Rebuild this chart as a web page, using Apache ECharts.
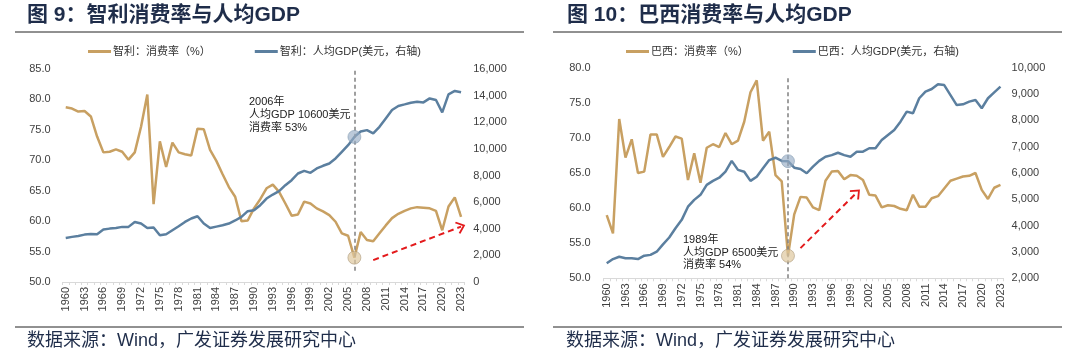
<!DOCTYPE html>
<html>
<head>
<meta charset="utf-8">
<script src="https://cdn.jsdelivr.net/npm/echarts@6/dist/echarts.min.js"></script>
<style>
html,body{margin:0;padding:0;background:#fff;}
#c{width:1080px;height:359px;}
</style>
</head>
<body>
<div id="c"></div>
<script>
const years = ['1960','1961','1962','1963','1964','1965','1966','1967','1968','1969',
'1970','1971','1972','1973','1974','1975','1976','1977','1978','1979',
'1980','1981','1982','1983','1984','1985','1986','1987','1988','1989',
'1990','1991','1992','1993','1994','1995','1996','1997','1998','1999',
'2000','2001','2002','2003','2004','2005','2006','2007','2008','2009',
'2010','2011','2012','2013','2014','2015','2016','2017','2018','2019',
'2020','2021','2022','2023'];

const chileRate = [78.7,78.5,78.0,78.1,77.2,73.9,71.3,71.4,71.8,71.4,
70.1,71.3,75.5,80.8,62.8,73.1,68.9,72.9,71.3,71.0,
70.8,75.2,75.1,71.7,69.9,67.7,65.6,64.0,60.0,60.1,
62.1,63.6,65.4,66.0,64.8,62.9,60.9,61.1,63.2,62.9,
62.1,61.6,61.0,59.9,58.0,57.6,54.0,58.2,56.9,56.7,
58.0,59.3,60.5,61.2,61.7,62.1,62.3,62.2,62.1,61.7,
58.5,62.4,63.9,60.7];

const chileGdp = [3310,3390,3460,3560,3610,3590,3940,4010,4060,4140,
4140,4510,4390,4060,4090,3510,3590,3890,4190,4510,
4770,4940,4390,4060,4160,4260,4390,4620,4890,5320,
5390,5770,6270,6570,6820,7270,7650,8150,8350,8200,
8530,8730,8900,9280,9780,10280,10900,11300,11410,11160,
11660,12290,12920,13220,13340,13470,13540,13490,13790,13670,
12740,14100,14350,14250];

const brazilRate = [59.0,56.4,72.7,67.2,69.8,65.0,65.2,70.5,70.5,67.3,
68.7,70.2,69.9,64.0,67.8,63.6,68.6,69.1,68.7,70.7,
69.1,69.6,72.3,76.5,78.2,69.6,70.9,64.7,63.8,53.2,
59.1,61.6,61.5,60.1,59.7,63.9,65.2,65.3,64.1,64.7,
64.6,64.0,61.9,61.8,60.1,60.4,60.3,59.9,59.7,61.9,
60.2,60.2,61.4,61.7,62.8,63.9,64.2,64.5,64.6,65.0,
62.6,61.3,62.9,63.3];

const brazilGdp = [2570,2730,2820,2760,2760,2730,2860,2890,3010,3290,
3550,3900,4220,4720,4980,5170,5550,5700,5820,6050,
6460,6120,6050,5700,5860,6180,6490,6580,6460,6450,
6200,6150,5990,6240,6460,6620,6680,6770,6680,6620,
6810,6810,6940,6940,7250,7440,7630,7950,8330,8270,
8840,9090,9190,9370,9340,8960,8580,8610,8710,8770,
8460,8840,9060,9280];

const names = {
  cR: '智利：消费率（%）', cG: '智利：人均GDP(美元，右轴)',
  bR: '巴西：消费率（%）', bG: '巴西：人均GDP(美元，右轴)'
};
const titles = ['图 9：智利消费率与人均GDP', '图 10：巴西消费率与人均GDP'];
const source = '数据来源：Wind，广发证券发展研究中心';
const notes = ['2006年\n人均GDP 10600美元\n消费率 53%', '1989年\n人均GDP 6500美元\n消费率 54%'];

const GOLD = '#C8A062', BLUE = '#5B7F9F', RED = '#E31A1C', NAVY = '#1f2d4a';
const FONT = "'Liberation Sans', Arial, 'Noto Sans CJK SC', sans-serif";
const TITLE_FONT = "bold 21px 'Liberation Sans', 'Noto Sans CJK SC', sans-serif";
const SRC_FONT = "18px 'Liberation Sans', 'Noto Sans CJK SC', sans-serif";
const chevron = 'path://M10,0 L20,11 L18,13 L10,4 L2,13 L0,11 Z';

function xAxisCfg(gi){
  return {type:'category', gridIndex:gi, data:years, boundaryGap:true,
    axisLine:{lineStyle:{color:'#d9d9d9'}},
    axisTick:{show:true, interval:0, length:3, lineStyle:{color:'#d9d9d9'}},
    axisLabel:{interval:2, rotate:90, fontSize:11, color:'#404040', margin:5, fontFamily:FONT},
    splitLine:{show:false}};
}
function yAxisCfg(gi, pos, min, max, interval, fmt, margin){
  return {type:'value', gridIndex:gi, position:pos, min:min, max:max, interval:interval,
    axisLine:{show:false}, axisTick:{show:false}, splitLine:{show:false},
    axisLabel:{fontSize:11, color:'#404040', fontFamily:FONT, margin:margin, formatter:fmt}};
}
const f1 = v => v.toFixed(1);
const fc = v => v.toLocaleString('en-US');

function vline(cat, top, bottom){
  return [{coord:[cat, top], symbol:'none'}, {coord:[cat, bottom], symbol:'none'}];
}
function arrow(c1, v1, c2, v2){
  return [{coord:[c1, v1], symbol:'none', lineStyle:{color:RED, width:2, type:[6,4]}},
          {coord:[c2, v2], symbol:chevron, symbolSize:[13,9]}];
}
const i06 = years.indexOf('2006'), i89 = years.indexOf('1989');
const goldMark = {color:'rgba(222,200,158,0.7)', borderColor:'rgba(165,145,115,0.55)', borderWidth:1};
const blueMark = {color:'rgba(150,172,196,0.65)', borderColor:'rgba(120,145,170,0.5)', borderWidth:1};

const option = {
  animation:false,
  textStyle:{fontFamily:FONT},
  grid:[
    {left:62.6, width:401.6, top:69, height:213},
    {left:603.6, width:400, top:67.7, height:210.6}
  ],
  xAxis:[xAxisCfg(0), xAxisCfg(1)],
  yAxis:[
    yAxisCfg(0,'left',50,85,5,f1,12),
    yAxisCfg(0,'right',0,16000,2000,fc,9),
    yAxisCfg(1,'left',50,80,5,f1,13),
    yAxisCfg(1,'right',2000,10000,1000,fc,8)
  ],
  legend:[
    {data:[names.cR, names.cG], left:83, top:41, icon:'rect', itemWidth:23, itemHeight:3, itemGap:44,
     textStyle:{fontSize:11, color:'#333', fontFamily:FONT, padding:[0,0,0,-3]}},
    {data:[names.bR, names.bG], left:621, top:41, icon:'rect', itemWidth:23, itemHeight:3, itemGap:44,
     textStyle:{fontSize:11, color:'#333', fontFamily:FONT, padding:[0,0,0,-3]}}
  ],
  series:[
    {name:names.cR, type:'line', xAxisIndex:0, yAxisIndex:0, data:chileRate, symbol:'none',
     lineStyle:{color:GOLD, width:2.5}, itemStyle:{color:GOLD}, z:3,
     markLine:{silent:true, animation:false, label:{show:false},
       lineStyle:{color:'#808080', width:1.5, type:[4,3]},
       data:[vline('2006', 84.7, 51.5), arrow('2009', 53.6, '2023', 59.1)]},
     markPoint:{silent:true, symbol:'circle', symbolSize:13, label:{show:false},
       itemStyle:goldMark, data:[{coord:['2006', chileRate[i06]]}]}},
    {name:names.cG, type:'line', xAxisIndex:0, yAxisIndex:1, data:chileGdp, symbol:'none',
     lineStyle:{color:BLUE, width:2.5}, itemStyle:{color:BLUE}, z:3,
     markPoint:{silent:true, symbol:'circle', symbolSize:13, label:{show:false},
       itemStyle:blueMark, data:[{coord:['2006', chileGdp[i06]]}]}},
    {name:names.bR, type:'line', xAxisIndex:1, yAxisIndex:2, data:brazilRate, symbol:'none',
     lineStyle:{color:GOLD, width:2.5}, itemStyle:{color:GOLD}, z:3,
     markLine:{silent:true, animation:false, label:{show:false},
       lineStyle:{color:'#808080', width:1.5, type:[4,3]},
       data:[vline('1989', 78.5, 50), arrow('1991', 54.3, '2000', 62.2)]},
     markPoint:{silent:true, symbol:'circle', symbolSize:13, label:{show:false},
       itemStyle:goldMark, data:[{coord:['1989', brazilRate[i89]]}]}},
    {name:names.bG, type:'line', xAxisIndex:1, yAxisIndex:3, data:brazilGdp, symbol:'none',
     lineStyle:{color:BLUE, width:2.5}, itemStyle:{color:BLUE}, z:3,
     markPoint:{silent:true, symbol:'circle', symbolSize:13, label:{show:false},
       itemStyle:blueMark, data:[{coord:['1989', brazilGdp[i89]]}]}}
  ],
  graphic:[
    {type:'text', left:27, top:5, style:{text:titles[0], font:TITLE_FONT, fill:NAVY}},
    {type:'text', left:567, top:5, style:{text:titles[1], font:TITLE_FONT, fill:NAVY}},
    {type:'line', shape:{x1:15, y1:32, x2:524, y2:32}, style:{stroke:'#222', lineWidth:1}},
    {type:'line', shape:{x1:553, y1:32, x2:1062, y2:32}, style:{stroke:'#222', lineWidth:1}},
    {type:'line', shape:{x1:15, y1:327, x2:524, y2:327}, style:{stroke:'#222', lineWidth:1}},
    {type:'line', shape:{x1:553, y1:327, x2:1062, y2:327}, style:{stroke:'#222', lineWidth:1}},
    {type:'text', left:27, top:332, style:{text:source, font:SRC_FONT, fill:NAVY}},
    {type:'text', left:566, top:332, style:{text:source, font:SRC_FONT, fill:NAVY}},
    {type:'text', left:249, top:95, style:{text:notes[0], font:"11px 'Liberation Sans', 'Noto Sans CJK SC', sans-serif", fill:'#222', lineHeight:13}},
    {type:'text', left:683, top:234, style:{text:notes[1], font:"11px 'Liberation Sans', 'Noto Sans CJK SC', sans-serif", fill:'#222', lineHeight:12.5}}
  ]
};
const chart = echarts.init(document.getElementById('c'), null, {renderer:'canvas'});
chart.setOption(option);
</script>
</body>
</html>
